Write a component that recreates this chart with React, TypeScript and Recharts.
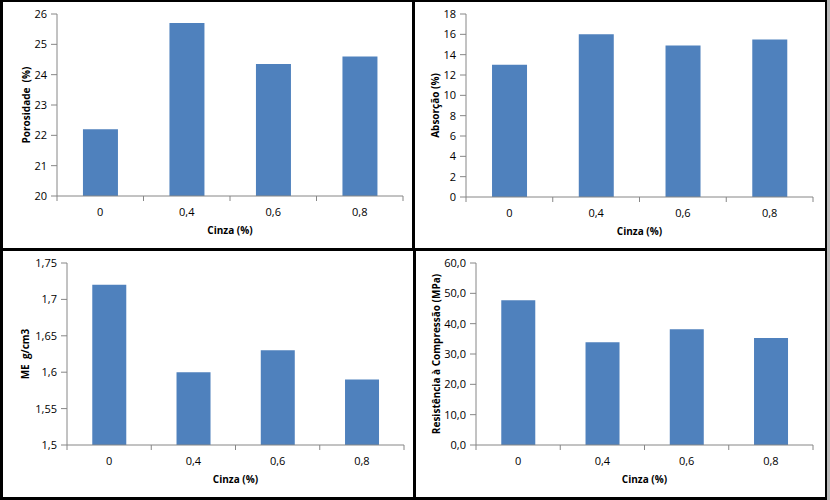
import React from 'react';
import { BarChart, Bar, XAxis, YAxis } from 'recharts';

const categories = ['0', '0,4', '0,6', '0,8'];
const porosity = [22.2, 25.7, 24.35, 24.6];
const absorption = [13.0, 16.0, 14.9, 15.5];
const density = [1.72, 1.6, 1.63, 1.59];
const compression = [47.7, 33.9, 38.2, 35.3];

const porosityTicks = [20, 21, 22, 23, 24, 25, 26];
const absorptionTicks = [0, 2, 4, 6, 8, 10, 12, 14, 16, 18];
const densityTicks = [1.5, 1.55, 1.6, 1.65, 1.7, 1.75];
const compressionTicks = [0, 10, 20, 30, 40, 50, 60];

const BAR = '#4F81BD';
const AXIS = '#868686';

const fmtTrim = (v: number) => {
  let s = v.toFixed(2);
  s = s.replace(/\.?0+$/, '');
  return s.replace('.', ',');
};
const fmtOne = (v: number) => v.toFixed(1).replace('.', ',');

type PanelProps = {
  left: number;
  top: number;
  width: number;
  height: number;
  plot: { l: number; t: number; r: number; b: number };
  values: number[];
  ticks: number[];
  fmt: (v: number) => string;
  title: string;
  titleX: number;
};

function CatTick(props: any) {
  const { x, y, payload, index, half } = props;
  const off = payload && typeof payload.offset === 'number' && payload.offset > 0 ? payload.offset : half;
  const last = index === categories.length - 1;
  return (
    <g>
      <line x1={x - off} x2={x - off} y1={y} y2={y + 5} stroke={AXIS} />
      {last && <line x1={x + off} x2={x + off} y1={y} y2={y + 5} stroke={AXIS} />}
      <text x={x} y={y + 12} dy="0.71em" textAnchor="middle" fill="#000" fontSize={11}>
        {payload.value}
      </text>
    </g>
  );
}

function Panel({ left, top, width, height, plot, values, ticks, fmt, title, titleX }: PanelProps) {
  const data = categories.map((c, i) => ({ cat: c, v: values[i] }));
  const catH = 40;
  const yW = plot.l;
  const half = (plot.r - plot.l) / categories.length / 2;
  return (
    <div style={{ position: 'absolute', left, top, width, height }}>
      <BarChart
        width={width}
        height={height}
        data={data}
        margin={{ top: plot.t, right: width - plot.r, left: 0, bottom: height - plot.b - catH }}
        barCategoryGap="30%"
      >
        <XAxis
          dataKey="cat"
          axisLine={{ stroke: AXIS }}
          stroke={AXIS}
          tickLine={false}
          tickSize={0}
          tickMargin={0}
          height={catH}
          interval={0}
          tick={<CatTick half={half} />}
          label={{ value: 'Cinza (%)', position: 'insideBottom', offset: 2, fontSize: 10, fontWeight: 'bold', fill: '#000' }}
        />
        <YAxis
          type="number"
          domain={[ticks[0], ticks[ticks.length - 1]]}
          ticks={ticks}
          interval={0}
          width={yW}
          tickFormatter={fmt}
          tickSize={6}
          tickMargin={4}
          stroke={AXIS}
          axisLine={{ stroke: AXIS }}
          tickLine={{ stroke: AXIS }}
          tick={{ fill: '#000', fontSize: 11 }}
          label={{ value: title, angle: -90, position: 'center', dx: titleX - yW / 2, fontSize: 10, fontWeight: 'bold', fill: '#000' }}
        />
        <Bar dataKey="v" fill={BAR} isAnimationActive={false} />
      </BarChart>
    </div>
  );
}

const line = (l: number, t: number, w: number, h: number, c = '#000') => (
  <div style={{ position: 'absolute', left: l, top: t, width: w, height: h, background: c }} />
);

export default function App() {
  return (
    <div
      style={{
        position: 'absolute',
        left: 0,
        top: 0,
        width: 830,
        height: 500,
        background: '#fff',
        fontFamily: '"Open Sans", sans-serif',
        overflow: 'hidden',
      }}
    >
      <Panel left={0} top={0} width={413} height={249} plot={{ l: 57, t: 14, r: 403, b: 196 }}
        values={porosity} ticks={porosityTicks} fmt={(v) => String(v)} title={'Porosidade\u00A0 (%)'} titleX={26} />
      <Panel left={413} top={0} width={414} height={249} plot={{ l: 53, t: 14, r: 400, b: 197 }}
        values={absorption} ticks={absorptionTicks} fmt={(v) => String(v)} title="Absorção (%)" titleX={22} />
      <Panel left={0} top={249} width={413} height={251} plot={{ l: 67, t: 14, r: 404, b: 196 }}
        values={density} ticks={densityTicks} fmt={fmtTrim} title={'ME\u00A0 g/cm3'} titleX={25} />
      <Panel left={413} top={249} width={414} height={251} plot={{ l: 63, t: 14, r: 400, b: 196 }}
        values={compression} ticks={compressionTicks} fmt={fmtOne} title="Resistência à Compressão (MPa)" titleX={23} />
      {line(0, 0, 827, 1.5)}
      {line(0, 0, 2.5, 500)}
      {line(824.5, 0, 2.5, 500)}
      {line(0, 497, 827, 3)}
      {line(0, 248, 827, 2.5)}
      {line(412, 0, 2.5, 249)}
      {line(413, 249, 2.5, 251)}
      {line(827, 0, 3, 500, '#b8b8b8')}
    </div>
  );
}
